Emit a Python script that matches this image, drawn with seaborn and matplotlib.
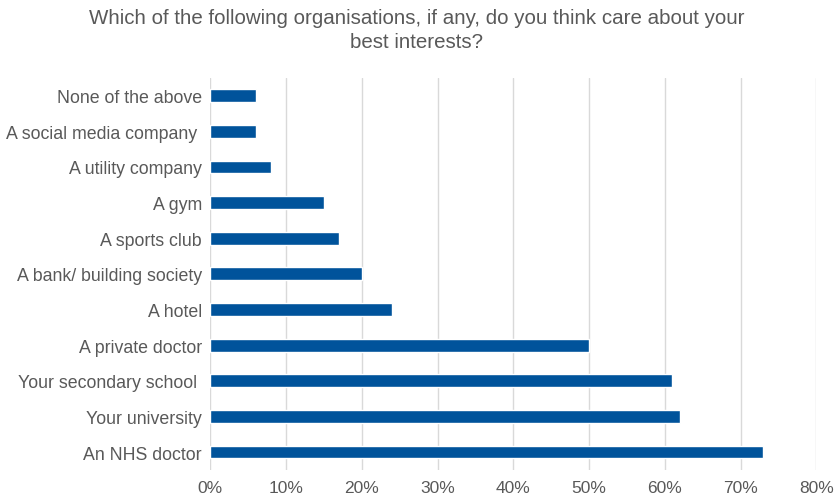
import matplotlib
matplotlib.use("Agg")
import matplotlib.pyplot as plt
import seaborn as sns
import pandas as pd
from matplotlib.ticker import PercentFormatter
from matplotlib import font_manager

categories = ["None of the above", "A social media company ", "A utility company", "A gym",
              "A sports club", "A bank/ building society", "A hotel", "A private doctor",
              "Your secondary school ", "Your university", "An NHS doctor"]
values = [6, 6, 8, 15, 17, 20, 24, 50, 61, 62, 73]
xticks = [0, 10, 20, 30, 40, 50, 60, 70, 80]
title = "Which of the following organisations, if any, do you think care about your\nbest interests?"

sns.set_theme(style="white")
names = {f.name for f in font_manager.fontManager.ttflist}
fam = "Liberation Sans Narrow" if "Liberation Sans Narrow" in names else "Liberation Sans"
plt.rcParams['font.family'] = [fam, 'DejaVu Sans']

df = pd.DataFrame({"cat": categories, "val": values})
fig = plt.figure(figsize=(8.34, 5.02), dpi=100)
ax = fig.add_axes([0.252, 0.062, 0.727, 0.781])
sns.barplot(data=df, x="val", y="cat", color="#00539B", width=0.36, ax=ax, zorder=3,
            saturation=1)
ax.set_xlim(0, 80)
ax.set_xticks(xticks)
ax.xaxis.set_major_formatter(PercentFormatter(decimals=0))
ax.grid(axis="x", color="#d9d9d9", linewidth=1, zorder=0)
for s in ax.spines.values():
    s.set_visible(False)
ax.tick_params(axis="y", length=0, labelsize=12.8, colors="#595959", pad=6)
ax.tick_params(axis="x", length=0, labelsize=12.5, colors="#595959", pad=7)
ax.set_xlabel("")
ax.set_ylabel("")
fig.suptitle(title, x=0.5, y=0.982, fontsize=14.8, color="#595959", va="top",
             linespacing=1.3)
fig.savefig("out.png", dpi=100)
